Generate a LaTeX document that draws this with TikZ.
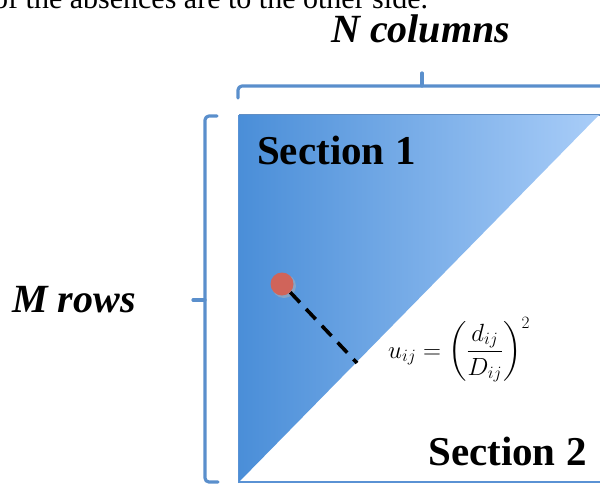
\documentclass[tikz,border=0pt]{standalone}
\usepackage{fontspec}
\setmainfont{Liberation Serif}
\usepackage{amsmath}
\definecolor{bracecol}{HTML}{5A8FCC}
\definecolor{darkblue}{HTML}{4A8ED8}
\definecolor{lightblue}{HTML}{A9CDF8}
\definecolor{edgeblue}{HTML}{5A92D4}
\definecolor{dotred}{HTML}{D0645A}
\tikzset{
  brace/.style={draw=bracecol, line width=3.2pt, line join=round, line cap=round},
  bigbold/.style={font=\fontsize{41}{44}\selectfont\bfseries, inner sep=0pt, anchor=base west},
  bigit/.style={font=\fontsize{40}{44}\selectfont\bfseries\itshape, inner sep=0pt, anchor=base west},
}
\begin{document}
\begin{tikzpicture}[x=1pt,y=-1pt]
\useasboundingbox (0,0) rectangle (600,485);
\clip (0,0) rectangle (600,485);
% cut-off text line at top
\node[font=\fontsize{30}{33}\selectfont, inner sep=0pt, anchor=base west] (topline) at (-7,8) {of the absences are to the other side.};
% labels
\node[bigit] (ncol) at (331,42) {N columns};
\node[bigit] (mrow) at (12,312) {M rows};
% square outline
\draw[draw=edgeblue!80!gray, line width=1.6pt] (239,115) -- (602,115);
\draw[draw=edgeblue, line width=2pt] (239,482) -- (602,482);
% triangle
\shade[left color=darkblue, right color=lightblue] (238,115) -- (599,115) -- (238,483) -- cycle;
\draw[draw=edgeblue, line width=1pt] (238,115) -- (238,483);
% braces
\draw[brace] (238,98) -- (238,90) arc[start angle=180, end angle=270, radius=4] -- (605,86);
\draw[brace] (422,86) -- (422,73);
\draw[brace] (217,116) -- (209,116) arc[start angle=270, end angle=180, radius=4] -- (205,478) arc[start angle=180, end angle=90, radius=4] -- (218,482);
\draw[brace] (205,300) -- (193,300);
% section labels
\node[bigbold] (s1) at (257,164) {Section 1};
\node[bigbold] (s2) at (428,465) {Section 2};
% dot and dashed distance
\fill[black!30, opacity=0.5] (284,286) circle[radius=12];
\node[circle, fill=dotred, minimum size=23pt, inner sep=0pt] (dot) at (282,284) {};
\coordinate (foot) at (357,363);
\draw[line width=3.6pt, dash pattern=on 14pt off 9pt] (dot.south east) -- (foot);
% formula
\node[inner sep=0pt, anchor=base west, font=\fontsize{23}{27}\selectfont] (eq) at (388,358)
  {$u_{ij} = \left(\dfrac{d_{ij}}{D_{ij}}\right)^{2}$};
\end{tikzpicture}
\end{document}
